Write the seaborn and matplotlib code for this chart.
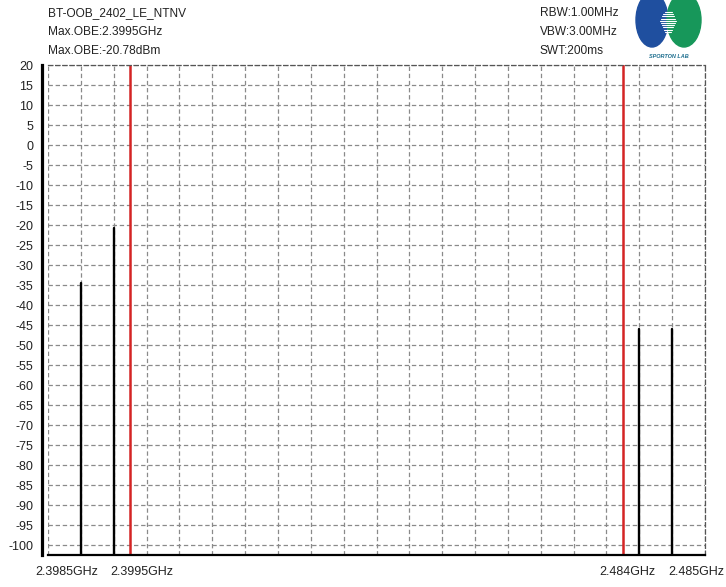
import numpy as np
import pandas as pd
import matplotlib
matplotlib.use("Agg")
import matplotlib.pyplot as plt
import matplotlib.transforms as mtransforms
from matplotlib.patches import Ellipse
from matplotlib.ticker import FixedLocator, NullFormatter, FixedFormatter
import seaborn as sns

# ---- measurement data ----
peak_freq_ghz = [2.3985, 2.3995, 2.484, 2.485]
peak_level_dbm = [-34.4, -20.78, -46.1, -45.9]
band_edges_ghz = [2.4, 2.4835]
tick_freq_ghz = [2.3985, 2.3995, 2.484, 2.485]
tick_labels = ["2.3985GHz", "2.3995GHz", "2.484GHz", "2.485GHz"]
y_ticks = list(range(-100, 25, 5))
header_left = ["BT-OOB_2402_LE_NTNV", "Max.OBE:2.3995GHz", "Max.OBE:-20.78dBm"]
header_right = ["RBW:1.00MHz", "VBW:3.00MHz", "SWT:200ms"]

# Display axis: 20 grid divisions, band edges zoomed at 1 div/MHz,
# the in-band span compressed into the middle 15 divisions.
knot_freq = [2.3975, 2.4, 2.4835, 2.486]
knot_div = [0.0, 2.5, 17.5, 20.0]


def fwd(f):
    return np.interp(f, knot_freq, knot_div)


def inv(u):
    return np.interp(u, knot_div, knot_freq)


Y_MIN, Y_MAX = -102.5, 20.0

sns.set_style("white")
plt.rcParams["font.family"] = ["Liberation Sans", "DejaVu Sans"]
plt.rcParams["axes.unicode_minus"] = False

W, H = 726, 587
fig = plt.figure(figsize=(W / 100, H / 100), dpi=100)
ax = fig.add_axes([48 / W, 1 - 555 / H, (705 - 48) / W, (555 - 65) / H])
ax.set_xscale("function", functions=(fwd, inv))
ax.set_xlim(knot_freq[0], knot_freq[-1])
ax.set_ylim(Y_MIN, Y_MAX)

grid_kw = dict(color="#8a8a8a", lw=0.9, ls=(0, (3.5, 2.2)), zorder=0.5)
# vertical grid, one per division
for u in range(0, 21):
    ax.axvline(inv(u), **grid_kw)
# horizontal grid
for y in y_ticks:
    ax.axhline(y, **grid_kw)

# band edge markers
for f in band_edges_ghz:
    ax.axvline(f, color="#d42424", lw=1.8, zorder=2)

# spurious peaks drawn as stems from the floor
rows = []
for i, (f, lv) in enumerate(zip(peak_freq_ghz, peak_level_dbm)):
    rows.append({"freq": f, "level": Y_MIN, "peak": i})
    rows.append({"freq": f, "level": lv, "peak": i})
stems = pd.DataFrame(rows)
sns.lineplot(data=stems, x="freq", y="level", units="peak", estimator=None,
             color="black", lw=1.7, ax=ax, zorder=3, legend=False)
ax.set_xlabel("")
ax.set_ylabel("")

# spines
ax.spines["left"].set_position(("outward", 4.5))
ax.spines["left"].set_linewidth(2.3)
ax.spines["left"].set_color("black")
ax.spines["bottom"].set_linewidth(1.6)
ax.spines["bottom"].set_color("black")
for s in ("top", "right"):
    ax.spines[s].set_color("#555555")
    ax.spines[s].set_linewidth(0.9)
    ax.spines[s].set_linestyle((0, (3.5, 2.2)))

# ticks
ax.yaxis.set_major_locator(FixedLocator(y_ticks))
ax.tick_params(axis="y", which="major", direction="out", length=4, width=1,
               color="black", pad=2, labelsize=9, labelcolor="#222222")
ax.xaxis.set_major_locator(FixedLocator(tick_freq_ghz))
ax.xaxis.set_major_formatter(FixedFormatter(tick_labels))
ax.xaxis.set_minor_locator(FixedLocator(inv(np.arange(0, 20.01, 0.25))))
ax.xaxis.set_minor_formatter(NullFormatter())
ax.tick_params(axis="x", which="both", direction="out", length=4, width=0.9,
               color="black", pad=4, labelsize=9, labelcolor="#222222")

# shift the frequency labels sideways as the analyzer lays them out
shifts_px = [-14.5, 28, -12, 24]
for lab, dx in zip(ax.get_xticklabels(), shifts_px):
    lab.set_transform(lab.get_transform() +
                      mtransforms.ScaledTranslation(dx / 100, 0, fig.dpi_scale_trans))

# header text
txt_kw = dict(fontsize=8.6, color="#222222", va="center", ha="left")
for i, s in enumerate(header_left):
    fig.text(48 / W, 1 - (13.5 + 18.5 * i) / H, s, **txt_kw)
for i, s in enumerate(header_right):
    fig.text(540 / W, 1 - (13.5 + 18.5 * i) / H, s, **txt_kw)

# logo
fig.add_artist(Ellipse((652 / W, 1 - 20 / H), 32 / W, 54 / H,
                       transform=fig.transFigure, color="#1f4f9f", zorder=5))
fig.add_artist(Ellipse((684 / W, 1 - 20 / H), 34 / W, 54 / H,
                       transform=fig.transFigure, color="#17975a", zorder=5))
for k, yy in enumerate(np.arange(12, 32, 2.2)):
    half = 8 - abs(yy - 21) * 0.5
    fig.add_artist(plt.Line2D([(668 - half) / W, (668 + half) / W],
                              [1 - yy / H, 1 - yy / H], transform=fig.transFigure,
                              color="white", lw=0.8, zorder=6))
fig.text(669 / W, 1 - 56 / H, "SPORTON LAB", fontsize=4, fontweight="bold",
         color="#1f6f8f", ha="center", va="center", style="italic")

fig.savefig("out.png", dpi=100)
